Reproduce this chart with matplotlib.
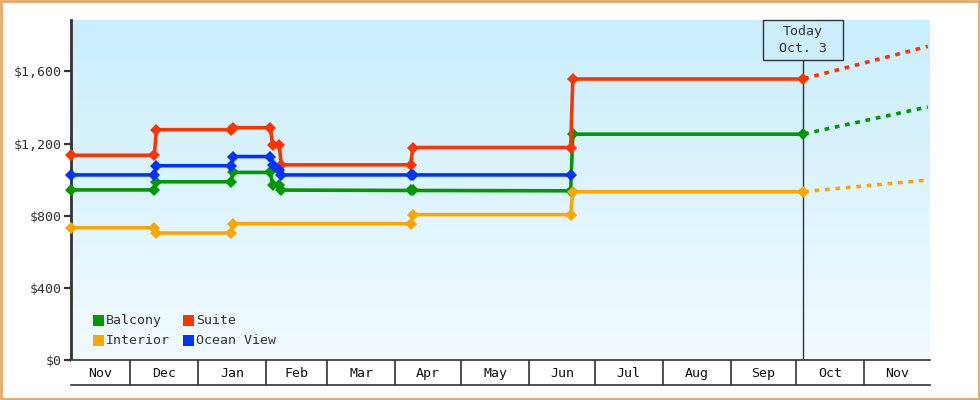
import matplotlib
matplotlib.use("Agg")
import matplotlib.pyplot as plt
import matplotlib.dates as mdates
from matplotlib.colors import LinearSegmentedColormap
from matplotlib.patches import Rectangle
from matplotlib.ticker import FuncFormatter
import numpy as np
import pandas as pd

plt.rcParams['font.family'] = ['DejaVu Sans Mono']

# ---------------- data ----------------
series_names = ["Balcony", "Suite", "Interior", "Ocean View"]
series_colors = ["#009900", "#FF3300", "#FFA500", "#0033FF"]

balcony_dates = ["2012-11-04", "2012-12-12", "2012-12-13", "2013-01-16", "2013-01-17",
                 "2013-02-03", "2013-02-04", "2013-02-07", "2013-02-08", "2013-04-08",
                 "2013-04-09", "2013-06-20", "2013-06-21", "2013-10-03 22:00"]
balcony_values = [943, 943, 988, 988, 1040, 1040, 970, 968, 942, 940, 940, 938, 1252, 1252]

suite_dates = ["2012-11-04", "2012-12-12", "2012-12-13", "2013-01-16", "2013-01-17",
               "2013-02-03", "2013-02-04", "2013-02-07", "2013-02-08", "2013-04-08",
               "2013-04-09", "2013-06-20", "2013-06-21", "2013-10-03 22:00"]
suite_values = [1135, 1135, 1277, 1277, 1288, 1288, 1190, 1192, 1082, 1082, 1178, 1178, 1558, 1558]

interior_dates = ["2012-11-04", "2012-12-12", "2012-12-13", "2013-01-16", "2013-01-17",
                  "2013-04-08", "2013-04-09", "2013-06-20", "2013-06-21", "2013-10-03 22:00"]
interior_values = [733, 733, 704, 704, 756, 756, 806, 806, 933, 933]

ocean_dates = ["2012-11-04", "2012-12-12", "2012-12-13", "2013-01-16", "2013-01-17",
               "2013-02-03", "2013-02-04", "2013-02-07", "2013-02-08", "2013-04-08",
               "2013-04-09", "2013-06-20"]
ocean_values = [1026, 1026, 1077, 1077, 1128, 1128, 1080, 1055, 1026, 1026, 1026, 1026]

# projections (dotted) from today to end of range
proj_dates = ["2013-10-03 22:00", "2013-11-30 00:00"]
balcony_proj = [1252, 1403]
suite_proj = [1558, 1739]
interior_proj = [933, 998]

today = "2013-10-03 22:00"
today_label = "Today\nOct. 3"

x_start, x_end = "2012-11-04", "2013-12-01"
y_max = 1885
y_ticks = [0, 400, 800, 1200, 1600]

month_starts = ["2012-12-01", "2013-01-01", "2013-02-01", "2013-03-01", "2013-04-01",
                "2013-05-01", "2013-06-01", "2013-07-01", "2013-08-01", "2013-09-01",
                "2013-10-01", "2013-11-01"]
month_labels = ["Nov", "Dec", "Jan", "Feb", "Mar", "Apr", "May", "Jun", "Jul",
                "Aug", "Sep", "Oct", "Nov"]

# ---------------- figure ----------------
W, H = 980, 400
fig = plt.figure(figsize=(W / 100, H / 100), dpi=100)
fig.patch.set_facecolor("white")

L, R, T, B = 71, 930, 20, 360
pos = [L / W, 1 - B / H, (R - L) / W, (B - T) / H]


def to_num(lst):
    return mdates.date2num(pd.to_datetime(lst, format="mixed"))


xs = to_num([x_start])[0]
xe = to_num([x_end])[0]

# background gradient
bg = fig.add_axes(pos, zorder=0)
cmap = LinearSegmentedColormap.from_list("bg", ["#F2FBFF", "#C9EEFC"])
grad = np.linspace(0, 1, 256).reshape(-1, 1)
bg.imshow(grad, extent=[0, 1, 0, 1], origin="lower", aspect="auto", cmap=cmap)
bg.set_axis_off()

ax = fig.add_axes(pos, zorder=1)
ax.set_facecolor("none")
ax.set_xlim(xs, xe)
ax.set_ylim(0, y_max)

data = [
    (balcony_dates, balcony_values, balcony_proj),
    (suite_dates, suite_values, suite_proj),
    (interior_dates, interior_values, interior_proj),
    (ocean_dates, ocean_values, None),
]
order = [2, 0, 3, 1]
for i in order:
    d, v, p = data[i]
    c = series_colors[i]
    ax.plot(to_num(d), v, color=c, lw=2.6, marker="D", markersize=6.5,
            markeredgewidth=0, solid_joinstyle="miter", zorder=3 + i, clip_on=False)
    if p is not None:
        ax.plot(to_num(proj_dates), p, color=c, lw=2.6, linestyle=(2.5, (1.3, 1.6)),
                dash_capstyle="butt", zorder=3, clip_on=False)

# today line + box
tx = to_num([today])[0]
tpx, _ = ax.transData.transform((tx, 0))
box_w, box_h = 80, 40
ax.plot([tx, tx], [0, y_max], color="#333333", lw=1, zorder=2)
fig.patches.append(Rectangle(((tpx - box_w / 2) / W, 1 - (T + box_h) / H),
                             box_w / W, box_h / H, transform=fig.transFigure,
                             fc="#CDEFFC", ec="#333333", lw=1, zorder=9))
fig.text(tpx / W, 1 - (T + box_h / 2) / H, today_label, ha="center", va="center",
         fontsize=9.5, color="#333333", linespacing=1.3, zorder=10)

# axes styling
for s in ["top", "right", "bottom"]:
    ax.spines[s].set_visible(False)
ax.spines["left"].set_linewidth(2)
ax.spines["left"].set_color("#333333")
ax.set_xticks([])
ax.set_yticks(y_ticks)
ax.yaxis.set_major_formatter(FuncFormatter(lambda v, p: "${:,.0f}".format(v)))
ax.tick_params(axis="y", direction="out", length=5, width=1.6, color="#333333",
               labelsize=9.5, labelcolor="#333333", pad=1.5)

# month row
axm = fig.add_axes([L / W, 1 - 385 / H, (R - L) / W, 25 / H], zorder=1)
axm.set_xlim(xs, xe)
axm.set_ylim(0, 1)
axm.set_facecolor("white")
for s in ["left", "right"]:
    axm.spines[s].set_visible(False)
for s in ["top", "bottom"]:
    axm.spines[s].set_linewidth(1.2)
    axm.spines[s].set_color("#333333")
axm.set_xticks([])
axm.set_yticks([])
ms = list(to_num(month_starts))
for m in ms:
    axm.axvline(m, color="#333333", lw=1.2)
edges = [xs] + ms + [xe]
for k, lab in enumerate(month_labels):
    axm.text((edges[k] + edges[k + 1]) / 2, 0.45, lab, ha="center", va="center",
             fontsize=9.5, color="#111111")

# legend (manual, inside plot bottom-left)
leg_pos = [(93, 315), (183, 315), (93, 335), (183, 335)]
for (px, py), name, c in zip(leg_pos, series_names, series_colors):
    fig.patches.append(Rectangle((px / W, 1 - (py + 11) / H), 11 / W, 11 / H,
                                 transform=fig.transFigure, fc=c, ec="none", zorder=5))
    fig.text((px + 13) / W, 1 - (py + 5.5) / H, name, ha="left", va="center",
             fontsize=9.5, color="#333333", zorder=6)

# outer border
fig.patches.append(Rectangle((0.001, 0.002), 0.998, 0.996, transform=fig.transFigure,
                             fill=False, ec="#EAA866", lw=2, zorder=20))

fig.savefig("out.png", dpi=100)
